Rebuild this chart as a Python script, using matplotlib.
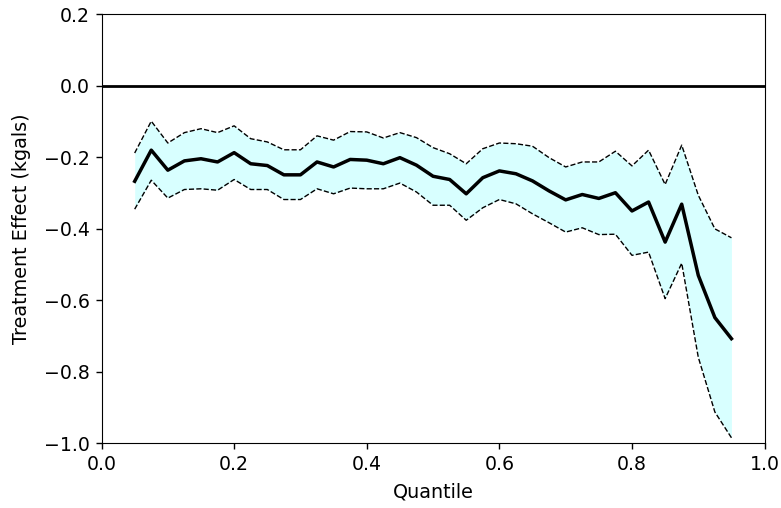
import matplotlib
matplotlib.use("Agg")
import matplotlib.pyplot as plt
import numpy as np

quantiles = np.arange(37) * 0.025 + 0.05

effect = [-0.267, -0.180, -0.236, -0.210, -0.204, -0.213, -0.187, -0.218, -0.223, -0.249,
          -0.249, -0.213, -0.227, -0.206, -0.208, -0.218, -0.201, -0.222, -0.253, -0.262,
          -0.302, -0.257, -0.238, -0.246, -0.266, -0.294, -0.319, -0.304, -0.315, -0.299,
          -0.350, -0.325, -0.437, -0.331, -0.530, -0.648, -0.707]
upper = [-0.188, -0.099, -0.160, -0.131, -0.120, -0.131, -0.112, -0.148, -0.157, -0.179,
         -0.179, -0.140, -0.152, -0.128, -0.129, -0.146, -0.131, -0.145, -0.173, -0.190,
         -0.218, -0.176, -0.160, -0.162, -0.169, -0.201, -0.227, -0.213, -0.213, -0.183,
         -0.224, -0.180, -0.276, -0.166, -0.306, -0.400, -0.425]
lower = [-0.345, -0.264, -0.314, -0.290, -0.288, -0.292, -0.262, -0.290, -0.290, -0.318,
         -0.318, -0.288, -0.302, -0.286, -0.288, -0.288, -0.272, -0.297, -0.334, -0.334,
         -0.376, -0.341, -0.318, -0.330, -0.358, -0.383, -0.409, -0.397, -0.416, -0.415,
         -0.474, -0.465, -0.595, -0.496, -0.759, -0.912, -0.984]

fig = plt.figure(figsize=(7.81, 5.08), dpi=100)
ax = fig.add_axes([0.130, 0.127, 0.849, 0.845])

ax.fill_between(quantiles, lower, upper, color="#d8ffff", linewidth=0)
ax.plot(quantiles, upper, color="black", linestyle="--", linewidth=1.0)
ax.plot(quantiles, lower, color="black", linestyle="--", linewidth=1.0)
ax.plot(quantiles, effect, color="black", linewidth=2.5)
ax.axhline(0, color="black", linewidth=2)

ax.set_xlim(0, 1)
ax.set_ylim(-1.0, 0.2)
ax.set_xticks([0.0, 0.2, 0.4, 0.6, 0.8, 1.0])
ax.set_yticks([-1.0, -0.8, -0.6, -0.4, -0.2, 0.0, 0.2])
ax.tick_params(labelsize=13.6, length=4.5, width=1, pad=4)
ax.set_xlabel("Quantile", fontsize=13.8, va="center")
ax.set_ylabel("Treatment Effect (kgals)", fontsize=13.8, va="center")
ax.xaxis.set_label_coords(0.5, -0.113)
ax.yaxis.set_label_coords(-0.120, 0.5)

fig.savefig("out.png", dpi=100)
